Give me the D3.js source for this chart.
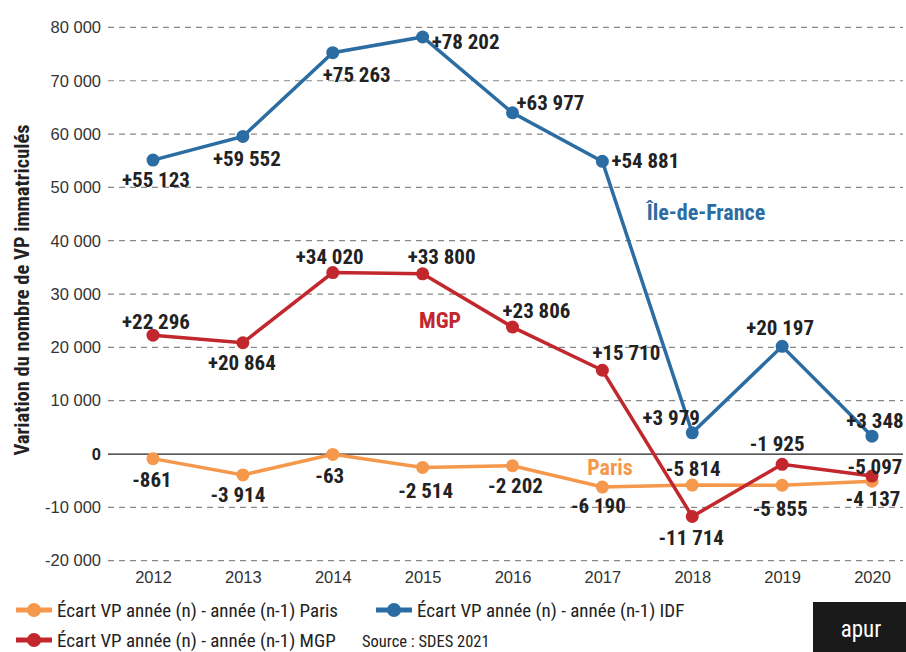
<!DOCTYPE html>
<html>
<head>
<meta charset="utf-8">
<script src="https://cdn.jsdelivr.net/npm/d3@7"></script>
<style>
  body { margin: 0; background: #fff; }
  svg { display: block; font-family: "Roboto Condensed", "Liberation Sans Narrow", "DejaVu Sans Condensed", sans-serif; }
  .tick text { fill: #333; font-size: 16.5px; }
  .lbl { font-weight: bold; font-size: 21px; fill: #222; }
</style>
</head>
<body>
<svg id="chart" width="906" height="652"></svg>
<script>
var years = [2012, 2013, 2014, 2015, 2016, 2017, 2018, 2019, 2020];
var idf = [55123, 59552, 75263, 78202, 63977, 54881, 3979, 20197, 3348];
var mgp = [22296, 20864, 34020, 33800, 23806, 15710, -11714, -1925, -4137];
var paris = [-861, -3914, -63, -2514, -2202, -6190, -5814, -5855, -5097];
var yTicks = [-20000, -10000, 0, 10000, 20000, 30000, 40000, 50000, 60000, 70000, 80000];

// label offsets from each point (layout only)
var offIdf = [[3,20],[4,22],[24,22],[43,5],[38,-10],[43,-1],[-21,-15],[-2,-19],[3,-16]];
var offMgp = [[3,-13],[-1,20],[-3,-16],[19,-17],[24,-16],[24,-18],[-1,21],[-5,-21],[1,23]];
var offParis = [[-1,21],[-5,20],[-3,21],[3,23],[3,20],[-4,19],[1,-16],[-2,23],[3,-15]];

var series = [
  { name: "Paris", values: paris, color: "#f6984c", off: offParis },
  { name: "MGP", values: mgp, color: "#c1272d", off: offMgp },
  { name: "IDF", values: idf, color: "#2b6da3", off: offIdf }
];

var svg = d3.select("#chart");
var x = d3.scalePoint().domain(years).range([153, 872]);
var y = d3.scaleLinear().domain([-20000, 80000]).range([560.7, 27.4]);
var fmt = v => d3.format(",")(Math.abs(v)).replace(/,/g, " ");
var sign = v => (v < 0 ? "-" : "+") + fmt(v);

// grid
svg.append("g").selectAll("line")
  .data(yTicks)
  .join("line")
  .attr("x1", 108).attr("x2", 903)
  .attr("y1", d => y(d)).attr("y2", d => y(d))
  .attr("stroke", d => d === 0 ? "#222" : "#888")
  .attr("stroke-width", d => d === 0 ? 1.3 : 1.2)
  .attr("stroke-dasharray", d => d === 0 ? null : "6,5");

var yAxis = svg.append("g")
  .attr("transform", "translate(108,0)")
  .call(d3.axisLeft(y).tickValues(yTicks).tickSize(0).tickPadding(7)
    .tickFormat(d => d === 0 ? "0" : (d < 0 ? "-" : "") + fmt(d)));
yAxis.select(".domain").remove();
yAxis.selectAll(".tick text").filter(d => d === 0).style("font-weight", "bold").style("fill", "#222");

var xAxis = svg.append("g")
  .attr("transform", "translate(0,568)")
  .call(d3.axisBottom(x).tickSize(0).tickPadding(3).tickFormat(d3.format("d")));
xAxis.select(".domain").remove();

svg.append("text")
  .attr("transform", "translate(29,290) rotate(-90)")
  .attr("text-anchor", "middle")
  .attr("font-weight", "bold").attr("font-size", 20.5).attr("fill", "#222")
  .text("Variation du nombre de VP immatriculés");

var line = d3.line().x((d, i) => x(years[i])).y(d => y(d));

series.forEach(function (s) {
  var g = svg.append("g");
  g.append("path")
    .datum(s.values)
    .attr("fill", "none")
    .attr("stroke", s.color)
    .attr("stroke-width", 3.5)
    .attr("d", line);
  g.selectAll("circle")
    .data(s.values)
    .join("circle")
    .attr("cx", (d, i) => x(years[i]))
    .attr("cy", d => y(d))
    .attr("r", 6.5)
    .attr("fill", s.color);
});

series.forEach(function (s) {
  svg.append("g").selectAll("text")
    .data(s.values)
    .join("text")
    .attr("class", "lbl")
    .attr("text-anchor", "middle")
    .attr("x", (d, i) => x(years[i]) + s.off[i][0])
    .attr("y", (d, i) => y(d) + s.off[i][1])
    .attr("dy", "0.35em")
    .text(d => sign(d));
});

// series names in the plot
var names = [
  { t: "Île-de-France", c: "#2b6da3", x: 706, y: 212 },
  { t: "MGP", c: "#c1272d", x: 440, y: 320 },
  { t: "Paris", c: "#f6984c", x: 610, y: 467 }
];
svg.append("g").selectAll("text")
  .data(names)
  .join("text")
  .attr("x", d => d.x).attr("y", d => d.y).attr("dy", "0.35em")
  .attr("text-anchor", "middle")
  .attr("font-weight", "bold").attr("font-size", 22)
  .attr("fill", d => d.c)
  .text(d => d.t);

// legend
var legend = [
  { t: "Écart VP année (n) - année (n-1) Paris", c: "#f6984c", x: 16, y: 610 },
  { t: "Écart VP année (n) - année (n-1) IDF", c: "#2b6da3", x: 376, y: 610 },
  { t: "Écart VP année (n) - année (n-1) MGP", c: "#c1272d", x: 16, y: 640 }
];
var lg = svg.append("g").selectAll("g")
  .data(legend)
  .join("g")
  .attr("transform", d => "translate(" + d.x + "," + d.y + ")");
lg.append("line").attr("x1", 0).attr("x2", 36)
  .attr("stroke", d => d.c).attr("stroke-width", 5);
lg.append("circle").attr("cx", 18).attr("r", 7).attr("fill", d => d.c);
lg.append("text").attr("x", 41).attr("dy", "0.35em")
  .attr("font-size", 19).attr("fill", "#222")
  .text(d => d.t);

svg.append("text")
  .attr("x", 362).attr("y", 641).attr("dy", "0.35em")
  .attr("font-size", 16.5).attr("fill", "#222")
  .text("Source : SDES 2021");

svg.append("rect").attr("x", 813).attr("y", 602).attr("width", 93).attr("height", 50).attr("fill", "#1a1a1a");
svg.append("text").attr("x", 861).attr("y", 637)
  .attr("text-anchor", "middle").attr("font-size", 23).attr("fill", "#fff")
  .text("apur");
</script>
</body>
</html>
